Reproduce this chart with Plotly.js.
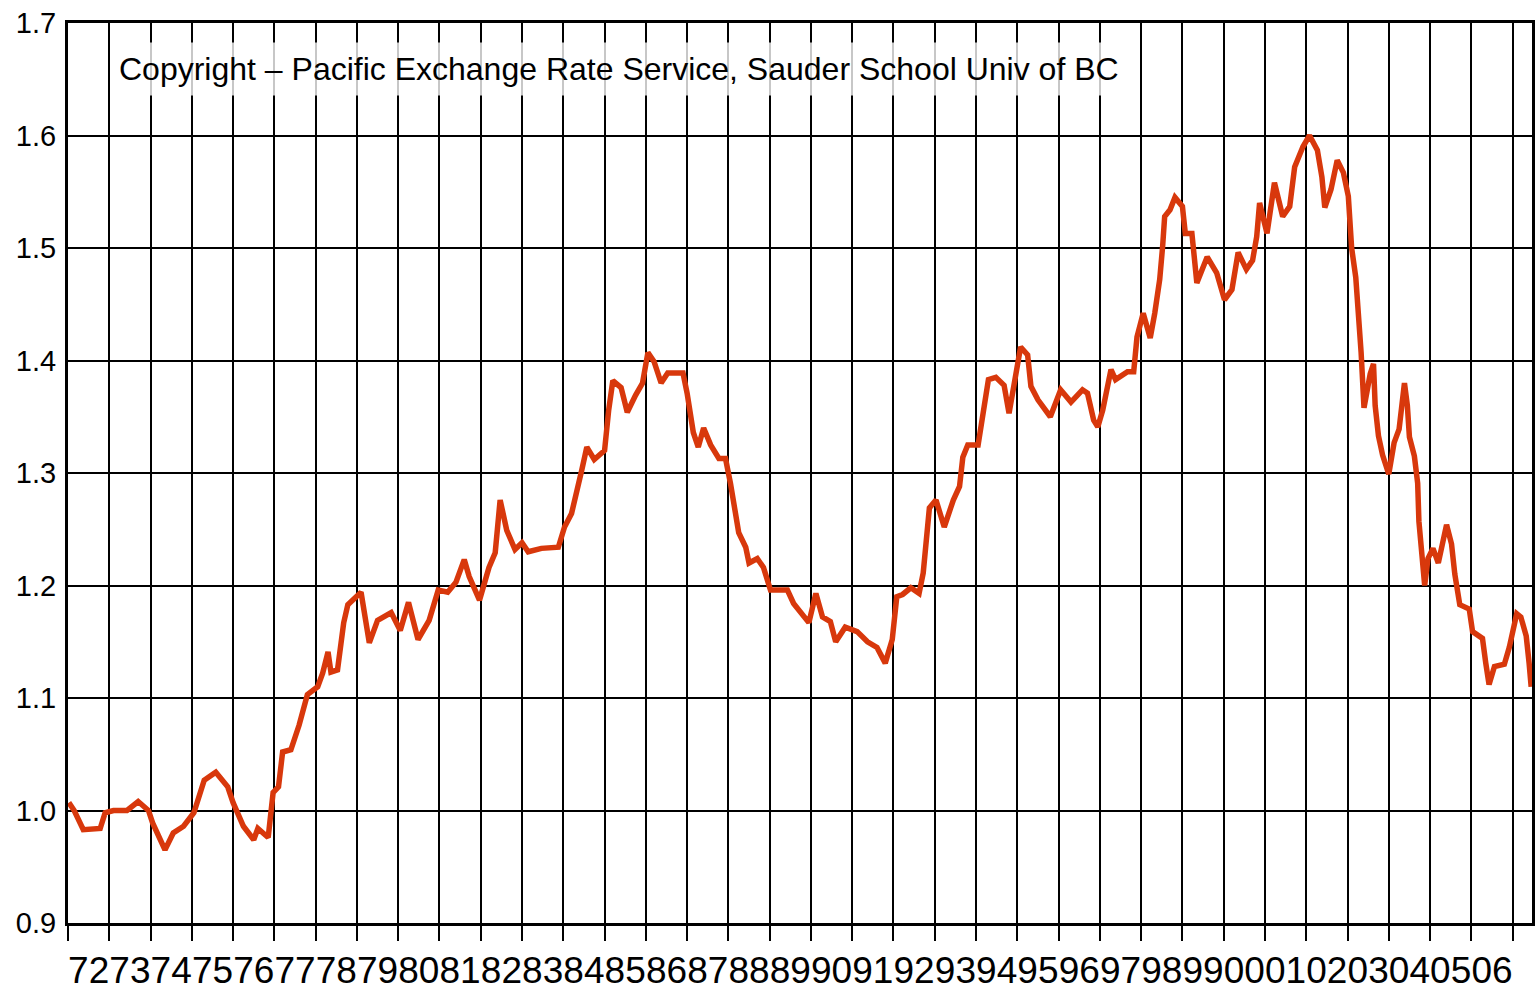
<!DOCTYPE html>
<html>
<head>
<meta charset="utf-8">
<script src="https://cdn.plot.ly/plotly-3.0.1.min.js"></script>
<style>html,body{margin:0;padding:0;background:#fff;}#chart{width:1537px;height:993px;}</style>
</head>
<body>
<div id="chart"></div>
<script>
// Decimal years (time of each reading)
const years = [
1972.02,1972.15,1972.37,1972.78,1972.9,1973.1,1973.43,1973.7,1973.95,1974.05,
1974.35,1974.55,1974.8,1975.05,1975.3,1975.58,1975.87,1976.0,1976.25,1976.5,
1976.6,1976.85,1976.97,1977.1,1977.2,1977.4,1977.6,1977.8,1978.05,1978.17,
1978.3,1978.37,1978.53,1978.68,1978.78,1979.1,1979.3,1979.5,1979.83,1980.05,
1980.25,1980.48,1980.75,1980.97,1981.2,1981.4,1981.6,1981.72,1981.97,1982.2,
1982.35,1982.47,1982.63,1982.83,1983.0,1983.15,1983.47,1983.88,1984.03,1984.2,
1984.45,1984.57,1984.75,1985.0,1985.1,1985.2,1985.4,1985.55,1985.75,1985.92,
1986.05,1986.2,1986.37,1986.53,1986.9,1987.0,1987.15,1987.27,1987.4,1987.57,
1987.77,1987.93,1988.05,1988.13,1988.25,1988.42,1988.5,1988.7,1988.85,1989.02,
1989.43,1989.58,1989.95,1990.12,1990.28,1990.47,1990.6,1990.83,1991.12,1991.37,
1991.6,1991.8,1991.97,1992.08,1992.22,1992.42,1992.62,1992.72,1992.8,1992.87,
1993.03,1993.23,1993.45,1993.6,1993.68,1993.8,1994.05,1994.17,1994.3,1994.48,
1994.68,1994.8,1994.92,1995.08,1995.25,1995.33,1995.5,1995.8,1996.05,1996.3,
1996.58,1996.7,1996.85,1996.95,1997.07,1997.27,1997.38,1997.67,1997.82,1997.9,
1998.05,1998.22,1998.33,1998.45,1998.52,1998.57,1998.7,1998.82,1999.0,1999.07,
1999.23,1999.35,1999.6,1999.83,2000.02,2000.2,2000.35,2000.55,2000.7,2000.8,
2000.87,2001.05,2001.23,2001.43,2001.6,2001.72,2001.92,2002.08,2002.27,2002.38,
2002.45,2002.6,2002.75,2002.9,2003.02,2003.1,2003.2,2003.27,2003.33,2003.4,
2003.55,2003.63,2003.67,2003.75,2003.85,2004.0,2004.13,2004.25,2004.33,2004.38,
2004.45,2004.5,2004.62,2004.7,2004.73,2004.82,2004.87,2004.95,2005.07,2005.2,
2005.32,2005.4,2005.52,2005.6,2005.72,2005.95,2006.03,2006.27,2006.35,2006.43,
2006.56,2006.8,2006.92,2007.1,2007.2,2007.33,2007.4,2007.45
];
// Canadian dollars per US dollar
const usdcad = [
1.007,1.0,0.983,0.984,0.998,1.0,1.0,1.008,1.0,0.989,
0.965,0.98,0.986,0.998,1.027,1.034,1.021,1.007,0.986,0.974,
0.984,0.976,1.016,1.021,1.052,1.054,1.076,1.103,1.11,1.122,
1.141,1.123,1.125,1.167,1.183,1.194,1.149,1.169,1.176,1.16,
1.185,1.152,1.169,1.196,1.194,1.203,1.223,1.208,1.187,1.216,
1.229,1.276,1.249,1.232,1.238,1.23,1.233,1.234,1.252,1.264,
1.303,1.323,1.312,1.32,1.356,1.382,1.376,1.354,1.369,1.38,
1.407,1.399,1.38,1.389,1.389,1.371,1.336,1.323,1.34,1.325,
1.313,1.313,1.291,1.27,1.247,1.234,1.22,1.224,1.216,1.196,
1.196,1.184,1.167,1.193,1.172,1.168,1.15,1.163,1.159,1.15,
1.145,1.131,1.152,1.19,1.192,1.198,1.193,1.211,1.247,1.269,
1.276,1.252,1.276,1.288,1.314,1.325,1.325,1.353,1.383,1.385,
1.378,1.353,1.377,1.412,1.405,1.377,1.365,1.35,1.374,1.363,
1.374,1.371,1.347,1.341,1.356,1.392,1.383,1.39,1.39,1.421,
1.442,1.42,1.442,1.472,1.501,1.528,1.534,1.545,1.537,1.513,
1.513,1.469,1.492,1.478,1.454,1.463,1.496,1.481,1.489,1.51,
1.54,1.513,1.558,1.528,1.537,1.572,1.59,1.6,1.587,1.563,
1.536,1.552,1.578,1.567,1.546,1.5,1.474,1.44,1.407,1.358,
1.388,1.397,1.36,1.333,1.316,1.299,1.327,1.339,1.366,1.38,
1.36,1.332,1.315,1.291,1.257,1.224,1.2,1.224,1.233,1.22,
1.244,1.254,1.237,1.21,1.183,1.179,1.159,1.153,1.131,1.112,
1.128,1.13,1.145,1.175,1.172,1.155,1.131,1.11
];
// Year labels, each centred in its year
const tickYears = [1972,1973,1974,1975,1976,1977,1978,1979,1980,1981,1982,1983,1984,1985,1986,1987,1988,1989,1990,1991,1992,1993,1994,1995,1996,1997,1998,1999,2000,2001,2002,2003,2004,2005,2006];
const tickLabels = ["72","73","74","75","76","77","78","79","80","81","82","83","84","85","86","87","88","89","90","91","92","93","94","95","96","97","98","99","00","01","02","03","04","05","06"];
const copyrightText = "Copyright \u2013 Pacific Exchange Rate Service, Sauder School Univ of BC";

const trace = {
  x: years, y: usdcad, type: 'scatter', mode: 'lines',
  line: {color: '#d8380c', width: 5.5},
  hoverinfo: 'x+y'
};

const layout = {
  width: 1537, height: 993,
  margin: {l: 68, r: 5, t: 23, b: 70},
  paper_bgcolor: '#ffffff', plot_bgcolor: '#ffffff',
  showlegend: false,
  font: {family: 'Liberation Sans, Arial, sans-serif', color: '#000'},
  xaxis: {
    range: [1972, 2007.47],
    tickmode: 'array',
    tickvals: tickYears.map(v => v + 0.5),
    ticktext: tickLabels,
    tickangle: 0,
    ticks: 'outside', ticklen: 13, tickcolor: 'rgba(0,0,0,0)',
    showgrid: false, zeroline: false,
    showline: true, mirror: true, linecolor: '#000', linewidth: 3,
    tickfont: {size: 37, color: '#000'},
    minor: {tick0: 1972, dtick: 1, ticks: 'outside', ticklen: 15, tickwidth: 2, tickcolor: '#000',
            showgrid: true, gridcolor: '#000', gridwidth: 2}
  },
  yaxis: {
    range: [0.9, 1.7],
    tickmode: 'linear', tick0: 0.9, dtick: 0.1, tickformat: '.1f',
    ticks: 'outside', ticklen: 3, tickcolor: 'rgba(0,0,0,0)',
    showgrid: true, gridcolor: '#000', gridwidth: 2, zeroline: false,
    showline: true, mirror: true, linecolor: '#000', linewidth: 3,
    tickfont: {size: 29, color: '#000'}
  },
  annotations: [{
    xref: 'paper', yref: 'paper',
    x: (110 - 68) / 1464, y: 1 - (69 - 23) / 900,
    xanchor: 'left', yanchor: 'middle',
    text: copyrightText, showarrow: false,
    font: {size: 32, color: '#000', family: 'Liberation Sans, Arial, sans-serif'},
    bgcolor: 'rgba(255,255,255,0.78)', borderpad: 8
  }]
};

Plotly.newPlot('chart', [trace], layout, {displayModeBar: false, staticPlot: true});
</script>
</body>
</html>
